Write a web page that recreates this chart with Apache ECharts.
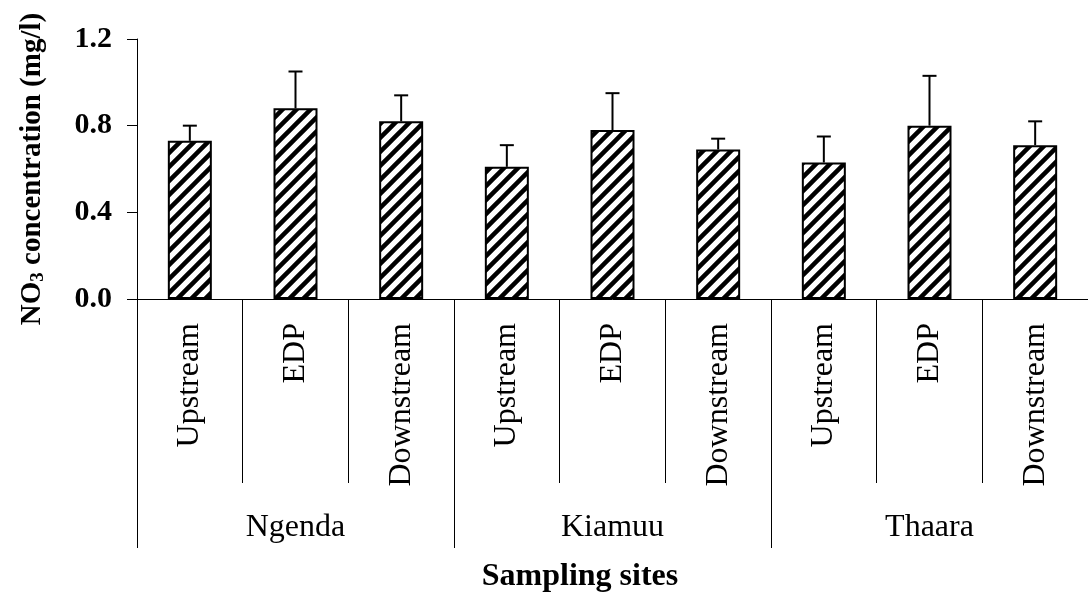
<!DOCTYPE html>
<html>
<head>
<meta charset="utf-8">
<script src="https://cdn.jsdelivr.net/npm/echarts@6/dist/echarts.min.js"></script>
<style>
  html, body { margin: 0; padding: 0; background: #fff; }
  #chart { width: 1088px; height: 594px; }
</style>
</head>
<body>
<div id="chart"></div>
<script>
// values
var stations = ["Upstream", "EDP", "Downstream", "Upstream", "EDP", "Downstream", "Upstream", "EDP", "Downstream"];
var sites = ["Ngenda", "Kiamuu", "Thaara"];
var means = [0.73, 0.88, 0.82, 0.61, 0.78, 0.69, 0.63, 0.80, 0.71];
var errors = [0.07, 0.17, 0.12, 0.10, 0.17, 0.05, 0.12, 0.23, 0.11];
var yTicks = [0, 0.4, 0.8, 1.2];

var FONT = "Liberation Serif";

// diagonal hatch tile
var makeHatch = function () {
  var size = 14;
  var cv = document.createElement("canvas");
  cv.width = size;
  cv.height = size;
  var ctx = cv.getContext("2d");
  ctx.fillStyle = "#fff";
  ctx.fillRect(0, 0, size, size);
  ctx.strokeStyle = "#000";
  ctx.lineWidth = 4.5;
  ctx.beginPath();
  ctx.moveTo(-size, size);
  ctx.lineTo(size, -size);
  ctx.moveTo(0, size);
  ctx.lineTo(size, 0);
  ctx.moveTo(0, 2 * size);
  ctx.lineTo(2 * size, 0);
  ctx.stroke();
  return cv;
};

var errData = [];
for (var i = 0; i < means.length; i++) {
  errData.push([i, means[i], means[i] + errors[i]]);
}

var chart = echarts.init(document.getElementById("chart"));
chart.setOption({
  animation: false,
  grid: { left: 137, top: 39, width: 960, height: 260 },
  xAxis: [
    {
      type: "category",
      data: stations,
      axisLine: { lineStyle: { color: "#000", width: 1 } },
      axisTick: { show: true, interval: 0, length: 184, lineStyle: { color: "#000", width: 1 } },
      axisLabel: {
        interval: 0,
        rotate: 90,
        margin: 24,
        fontFamily: FONT,
        fontSize: 32,
        color: "#000",
      },
    },
    {
      type: "category",
      data: sites,
      position: "bottom",
      axisLine: { show: false },
      axisTick: { show: true, interval: 0, length: 249, lineStyle: { color: "#000", width: 1 } },
      axisLabel: {
        interval: 0,
        margin: 213,
        fontFamily: FONT,
        fontSize: 32,
        color: "#000",
      },
    },
  ],
  yAxis: {
    type: "value",
    min: yTicks[0],
    max: yTicks[yTicks.length - 1],
    interval: 0.4,
    splitLine: { show: false },
    axisLine: { show: true, lineStyle: { color: "#000", width: 1 } },
    axisTick: { show: true, length: 10, lineStyle: { color: "#000", width: 1 } },
    axisLabel: {
      margin: 25,
      fontFamily: FONT,
      fontSize: 30,
      fontWeight: "bold",
      color: "#000",
      formatter: function (v) {
        return v.toFixed(1);
      },
    },
    name: "{a|NO}{s|3}{a| concentration (mg/l)}",
    nameLocation: "middle",
    nameRotate: 90,
    nameGap: 89,
    nameTextStyle: {
      rich: {
        a: { fontFamily: FONT, fontSize: 29, fontWeight: "bold", color: "#000", lineHeight: 30 },
        s: { fontFamily: FONT, fontSize: 19, fontWeight: "bold", color: "#000", lineHeight: 20, verticalAlign: "bottom" },
      },
    },
  },
  graphic: [
    {
      type: "text",
      x: 580,
      y: 577,
      style: {
        text: "Sampling sites",
        font: "bold 32px " + FONT,
        fill: "#000",
        align: "center",
        verticalAlign: "middle",
      },
    },
  ],
  series: [
    {
      type: "bar",
      data: means,
      barWidth: 44,
      itemStyle: {
        color: { image: makeHatch(), repeat: "repeat" },
        borderColor: "#000",
        borderWidth: 2,
      },
    },
    {
      type: "custom",
      data: errData,
      z: 3,
      renderItem: function (params, api) {
        var base = api.coord([api.value(0), api.value(1)]);
        var top = api.coord([api.value(0), api.value(2)]);
        var half = 7;
        return {
          type: "group",
          children: [
            {
              type: "line",
              shape: { x1: base[0], y1: base[1], x2: top[0], y2: top[1] },
              style: { stroke: "#000", lineWidth: 2 },
            },
            {
              type: "line",
              shape: { x1: top[0] - half, y1: top[1], x2: top[0] + half, y2: top[1] },
              style: { stroke: "#000", lineWidth: 2 },
            },
          ],
        };
      },
    },
  ],
});
</script>
</body>
</html>
